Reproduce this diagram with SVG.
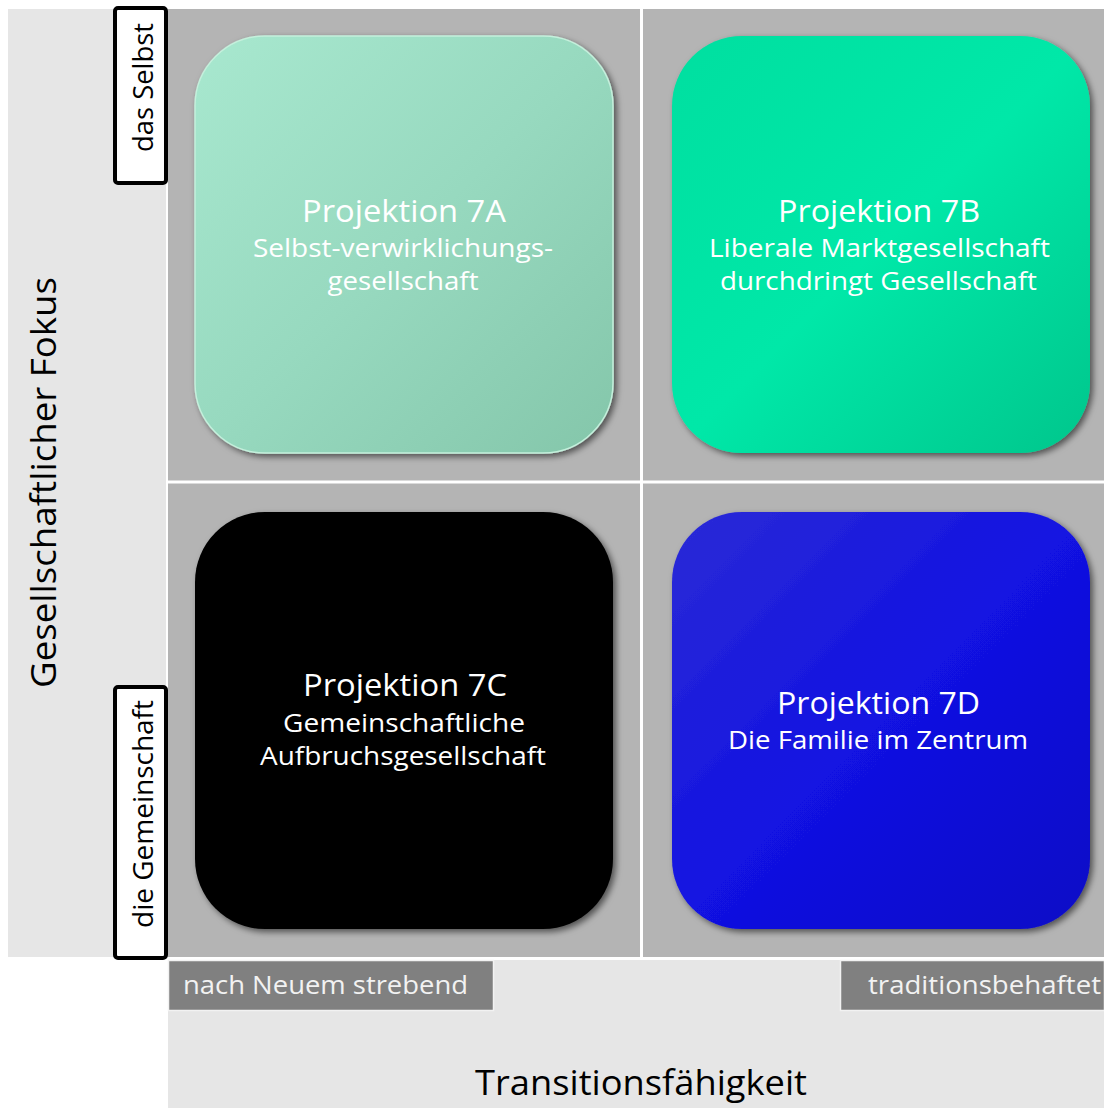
<svg xmlns="http://www.w3.org/2000/svg" width="1104" height="1108" viewBox="0 0 1104 1108">
  <style>
    text { font-family: "Open Sans", "Liberation Sans", sans-serif; }
    .title { font-size: 31px; fill: #ffffff; text-anchor: middle; }
    .sub { font-size: 25px; fill: #ffffff; text-anchor: middle; }
    .side { font-size: 27px; fill: #000000; text-anchor: middle; }
    .tag { font-size: 26px; fill: #f2f2f2; }
    .axis { font-size: 34px; fill: #000000; text-anchor: middle; }
    .tile { filter: url(#shadow); }
  </style>
  <defs>
    <filter id="shadow" x="-10%" y="-10%" width="125%" height="125%">
      <feDropShadow dx="3" dy="3" stdDeviation="3" flood-color="#000000" flood-opacity="0.55"/>
    </filter>
    <linearGradient id="gA" x1="0" y1="0" x2="1" y2="1">
      <stop offset="0" stop-color="#a8e8cf"/>
      <stop offset="0.5" stop-color="#97d9bf"/>
      <stop offset="1" stop-color="#84c6aa"/>
    </linearGradient>
    <linearGradient id="gB" x1="0" y1="0" x2="1" y2="1">
      <stop offset="0" stop-color="#00dfa0"/>
      <stop offset="0.5" stop-color="#00e8a8"/>
      <stop offset="1" stop-color="#00c68c"/>
    </linearGradient>
    <linearGradient id="gD" x1="0" y1="0" x2="1" y2="1">
      <stop offset="0" stop-color="#2b2bd6"/>
      <stop offset="0.5" stop-color="#1212e2"/>
      <stop offset="1" stop-color="#0808c6"/>
    </linearGradient>
  </defs>

  <g id="background">
    <rect x="0" y="0" width="1104" height="1108" fill="#ffffff"/>
    <rect x="8" y="9" width="158" height="948" fill="#e6e6e6"/>
    <rect x="168" y="9" width="936" height="948" fill="#b4b4b4"/>
    <rect x="168" y="960" width="936" height="148" fill="#e6e6e6"/>
    <rect x="640" y="9" width="3" height="948" fill="#ffffff"/>
    <rect x="168" y="480.5" width="936" height="3" fill="#ffffff"/>
  </g>

  <g id="node-7A">
    <rect class="tile" x="195" y="36" width="418" height="417" rx="70" ry="70" fill="url(#gA)" stroke="#c4f0dc" stroke-width="1.5"/>
    <text class="title" x="404" y="222" textLength="204" lengthAdjust="spacingAndGlyphs">Projektion 7A</text>
    <text class="sub" x="403" y="257" textLength="300" lengthAdjust="spacingAndGlyphs">Selbst-verwirklichungs-</text>
    <text class="sub" x="403" y="290" textLength="151" lengthAdjust="spacingAndGlyphs">gesellschaft</text>
  </g>

  <g id="node-7B">
    <rect class="tile" x="672" y="36" width="418" height="417" rx="70" ry="70" fill="url(#gB)"/>
    <text class="title" x="879" y="222" textLength="202" lengthAdjust="spacingAndGlyphs">Projektion 7B</text>
    <text class="sub" x="879.5" y="257" textLength="341" lengthAdjust="spacingAndGlyphs">Liberale Marktgesellschaft</text>
    <text class="sub" x="878.5" y="290" textLength="317" lengthAdjust="spacingAndGlyphs">durchdringt Gesellschaft</text>
  </g>

  <g id="node-7C">
    <rect class="tile" x="195" y="512" width="418" height="417" rx="70" ry="70" fill="#000000"/>
    <text class="title" x="405" y="696" textLength="204" lengthAdjust="spacingAndGlyphs">Projektion 7C</text>
    <text class="sub" x="404" y="732" textLength="242" lengthAdjust="spacingAndGlyphs">Gemeinschaftliche</text>
    <text class="sub" x="403" y="765" textLength="286" lengthAdjust="spacingAndGlyphs">Aufbruchsgesellschaft</text>
  </g>

  <g id="node-7D">
    <rect class="tile" x="672" y="512" width="418" height="417" rx="70" ry="70" fill="url(#gD)"/>
    <text class="title" x="878.5" y="714" textLength="203" lengthAdjust="spacingAndGlyphs">Projektion 7D</text>
    <text class="sub" x="878" y="749" textLength="300" lengthAdjust="spacingAndGlyphs">Die Familie im Zentrum</text>
  </g>

  <g id="axis-y">
    <text class="axis" transform="translate(56,482.5) rotate(-90)" textLength="411" lengthAdjust="spacingAndGlyphs">Gesellschaftlicher Fokus</text>
  </g>

  <g id="label-selbst">
    <rect x="115" y="8" width="51" height="175" rx="3" ry="3" fill="#ffffff" stroke="#000000" stroke-width="4"/>
    <text class="side" transform="translate(153,87.5) rotate(-90)" textLength="129" lengthAdjust="spacingAndGlyphs">das Selbst</text>
  </g>

  <g id="label-gemeinschaft">
    <rect x="115" y="687" width="51" height="271" rx="3" ry="3" fill="#ffffff" stroke="#000000" stroke-width="4"/>
    <text class="side" transform="translate(153,814) rotate(-90)" textLength="228" lengthAdjust="spacingAndGlyphs">die Gemeinschaft</text>
  </g>

  <g id="label-neu">
    <rect x="168.5" y="960.5" width="325" height="50" fill="#808080" stroke="#f2f2f2" stroke-width="1.5"/>
    <text class="tag" x="183" y="994" textLength="285" lengthAdjust="spacingAndGlyphs">nach Neuem strebend</text>
  </g>

  <g id="label-tradition">
    <rect x="840.5" y="960.5" width="264" height="50" fill="#808080" stroke="#f2f2f2" stroke-width="1.5"/>
    <text class="tag" x="868" y="994" textLength="233" lengthAdjust="spacingAndGlyphs">traditionsbehaftet</text>
  </g>

  <g id="axis-x">
    <text class="axis" x="641" y="1095" textLength="332" lengthAdjust="spacingAndGlyphs">Transitionsfähigkeit</text>
  </g>

  <g id="connectors"/>
</svg>
